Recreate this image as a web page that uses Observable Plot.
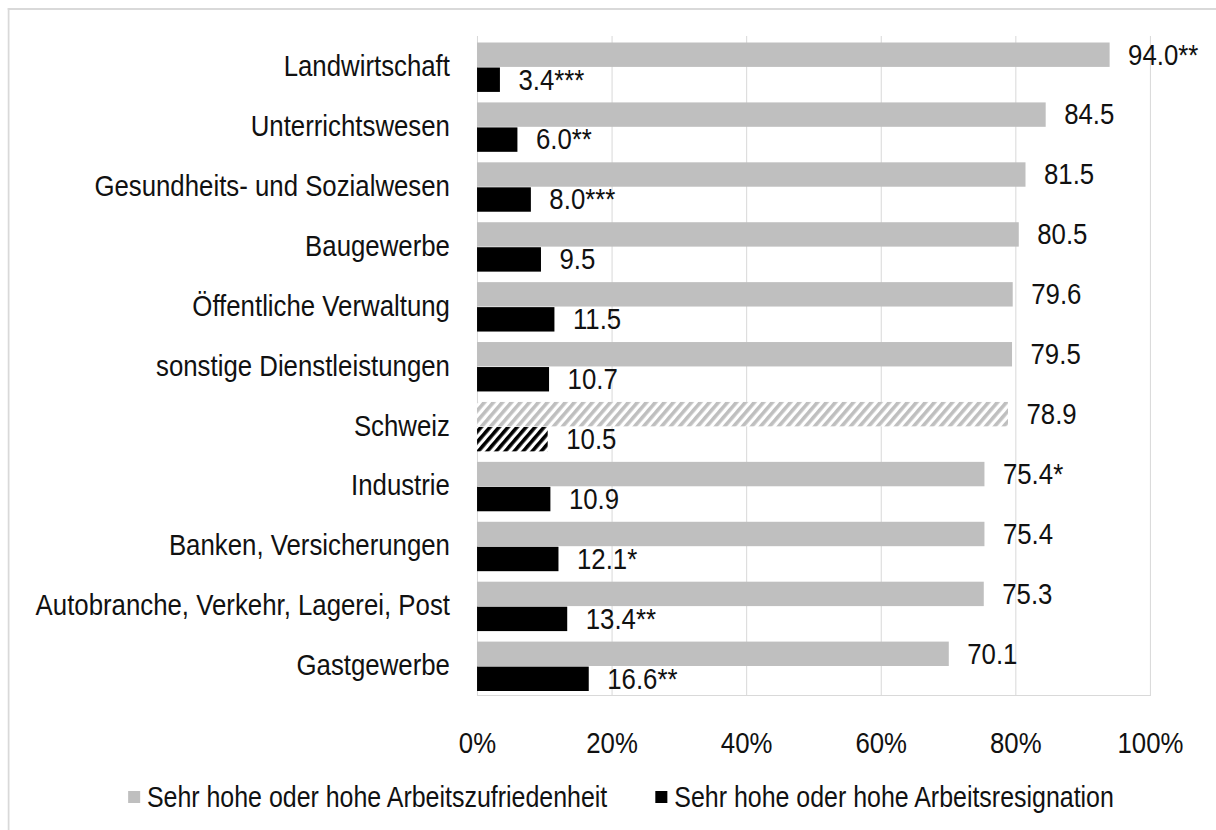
<!DOCTYPE html>
<html>
<head>
<meta charset="utf-8">
<script src="https://cdn.jsdelivr.net/npm/d3@7"></script>
<script src="https://cdn.jsdelivr.net/npm/@observablehq/plot@0.6"></script>
<style>
  html, body { margin: 0; padding: 0; background: #fff; overflow: hidden; width: 1216px; height: 830px; }
  #wrap { position: absolute; left: 0; top: 0; width: 1414px; height: 830px; transform: scaleX(0.86); transform-origin: 0 0; font-family: "Liberation Sans", Arial, sans-serif; }
  #border { position: absolute; left: 9.3px; top: 8px; width: 2000px; height: 2000px; border-top: 2px solid #d9d9d9; border-left: 2.3px solid #d9d9d9; }
  #chart { position: absolute; left: 0; top: 0; }
  #legend { position: absolute; left: 148.8px; top: 777px; height: 40px; line-height: 40px; display: flex; align-items: center; font-size: 29px; color: #111; white-space: nowrap; }
  .sw { display: inline-block; width: 14px; height: 12px; margin-right: 8px; }
  .item { display: flex; align-items: center; }
</style>
</head>
<body>
<div id="wrap">
  <div id="border"></div>
  <div id="chart"></div>
  <div id="legend"></div>
</div>
<script>
const categories = ["Landwirtschaft","Unterrichtswesen","Gesundheits- und Sozialwesen","Baugewerbe","Öffentliche Verwaltung","sonstige Dienstleistungen","Schweiz","Industrie","Banken, Versicherungen","Autobranche, Verkehr, Lagerei, Post","Gastgewerbe"];
const zufriedenheit = [94.0,84.5,81.5,80.5,79.6,79.5,78.9,75.4,75.4,75.3,70.1];
const resignation = [3.4,6.0,8.0,9.5,11.5,10.7,10.5,10.9,12.1,13.4,16.6];
const zufLabels = ["94.0**","84.5","81.5","80.5","79.6","79.5","78.9","75.4*","75.4","75.3","70.1"];
const resLabels = ["3.4***","6.0**","8.0***","9.5","11.5","10.7","10.5","10.9","12.1*","13.4**","16.6**"];
const xTicks = [0,20,40,60,80,100];
const seriesNames = ["Sehr hohe oder hohe Arbeitszufriedenheit","Sehr hohe oder hohe Arbeitsresignation"];
const seriesColors = ["#bfbfbf","#000000"];
const highlight = "Schweiz";

const rows = categories.map((c,i) => ({cat: c, zuf: zufriedenheit[i], res: resignation[i], zl: zufLabels[i], rl: resLabels[i]}));
const normal = rows.filter(d => d.cat !== highlight);
const special = rows.filter(d => d.cat === highlight);

const gray = {insetTop: 6.5, insetBottom: 29};
const black = {insetTop: 31.5, insetBottom: 4};

const svg = Plot.plot({
  width: 1414,
  height: 770,
  marginLeft: 554.7,
  marginRight: 76.8,
  marginTop: 36,
  marginBottom: 75,
  style: {fontFamily: "Liberation Sans, Arial, sans-serif", fontSize: "30px", color: "#111", background: "transparent", overflow: "visible"},
  x: {domain: [0,100], ticks: xTicks, tickFormat: d => d + "%"},
  y: {domain: categories, padding: 0, round: false},
  marks: [
    Plot.gridX(xTicks, {stroke: "#d9d9d9", strokeOpacity: 1, strokeWidth: 1.2}),
    Plot.frame({anchor: "bottom", stroke: "#d9d9d9", strokeWidth: 1.2}),
    Plot.barX(normal, {x: "zuf", y: "cat", fill: seriesColors[0], ...gray}),
    Plot.barX(normal, {x: "res", y: "cat", fill: seriesColors[1], ...black}),
    Plot.barX(special, {x: "zuf", y: "cat", fill: "url(#hatchGray)", ...gray}),
    Plot.barX(special, {x: "res", y: "cat", fill: "url(#hatchBlack)", ...black}),
    Plot.text(rows, {x: "zuf", y: "cat", text: "zl", textAnchor: "start", dx: 21, dy: -11.5, fill: "#111"}),
    Plot.text(rows, {x: "res", y: "cat", text: "rl", textAnchor: "start", dx: 21, dy: 13.5, fill: "#111"}),
    Plot.axisX({ticks: xTicks, tickFormat: d => d + "%", tickSize: 0, tickPadding: 36, label: null}),
    Plot.axisY({tickSize: 0, tickPadding: 32, label: null})
  ]
});

const defs = d3.select(svg).insert("defs", ":first-child");
[["hatchGray", seriesColors[0]], ["hatchBlack", seriesColors[1]]].forEach(([id, col]) => {
  const p = defs.append("pattern")
    .attr("id", id)
    .attr("patternUnits", "userSpaceOnUse")
    .attr("width", 7.4).attr("height", 7.4)
    .attr("patternTransform", "rotate(45)");
  p.append("rect").attr("width", 7.4).attr("height", 7.4).attr("fill", "#fff");
  p.append("rect").attr("width", 3.9).attr("height", 7.4).attr("fill", col);
});

document.getElementById("chart").appendChild(svg);

const legend = document.getElementById("legend");
seriesNames.forEach((name, i) => {
  const item = document.createElement("div");
  item.className = "item";
  if (i > 0) item.style.marginLeft = "56px";
  const sw = document.createElement("span");
  sw.className = "sw";
  sw.style.background = seriesColors[i];
  item.appendChild(sw);
  const t = document.createElement("span");
  t.textContent = name;
  item.appendChild(t);
  legend.appendChild(item);
});
</script>
</body>
</html>
